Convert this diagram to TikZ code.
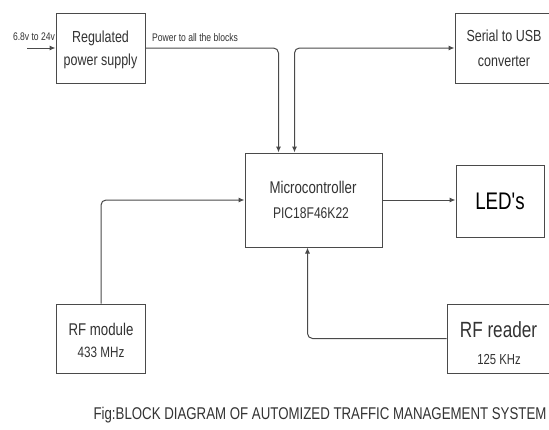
\documentclass[tikz,border=0pt]{standalone}
\usepackage{fontspec}
\setmainfont{Liberation Sans}
\usetikzlibrary{arrows.meta,calc}
\newcommand{\nar}[1]{\scalebox{0.78}[1]{#1}}
\definecolor{ln}{HTML}{4A4A4A}
\tikzset{
  blk/.style={draw=ln, line width=1pt, inner sep=0pt, align=center, fill=white},
  conn/.style={draw=ln, line width=1pt, rounded corners=5pt},
  tip/.style={-{Latex[length=6pt,width=5pt]}},
  lbl/.style={inner sep=0pt, text=black!80},
}
\begin{document}
\begin{tikzpicture}[x=1pt,y=-1pt]
\clip (0,0) rectangle (549,429);
\fill[white] (0,0) rectangle (549,429);
% blocks
\node[blk, minimum width=89pt, minimum height=70pt] (rps) at (100.5,48) {};
\node[lbl, font=\fontsize{16}{16}\selectfont] (rpst1) at (100.5,38) {\nar{Regulated}};
\node[lbl, font=\fontsize{16}{16}\selectfont] (rpst2) at (100.5,61) {\nar{power supply}};
\node[blk, minimum width=94pt, minimum height=70pt] (usb) at (502,48) {};
\node[lbl, font=\fontsize{16}{16}\selectfont] (usbt1) at (504,36) {\nar{Serial to USB}};
\node[lbl, font=\fontsize{16}{16}\selectfont] (usbt2) at (504,61) {\nar{converter}};
\node[blk, minimum width=137pt, minimum height=94pt] (micro) at (313.5,200) {};
\node[lbl, font=\fontsize{17}{17}\selectfont] (mt1) at (313,187) {\nar{Microcontroller}};
\node[lbl, font=\fontsize{15.5}{15.5}\selectfont] (mt2) at (311,213) {\nar{PIC18F46K22}};
\node[blk, minimum width=88pt, minimum height=72pt, font=\fontsize{24}{24}\selectfont] (led) at (500,201) {\nar{LED\textquotesingle s}};
\node[blk, minimum width=89pt, minimum height=69pt] (rfm) at (101,338.5) {};
\node[lbl, font=\fontsize{17}{17}\selectfont] (rfmt1) at (101,329) {\nar{RF module}};
\node[lbl, font=\fontsize{15}{15}\selectfont] (rfmt2) at (101,352) {\nar{433 MHz}};
\node[blk, minimum width=104pt, minimum height=69pt] (rfr) at (499,338.5) {};
\node[lbl, font=\fontsize{22}{22}\selectfont] (rfrt1) at (498.5,330) {\nar{RF reader}};
\node[lbl, font=\fontsize{14.5}{14.5}\selectfont] (rfrt2) at (499,360) {\nar{125 KHz}};
% labels
\node[lbl, font=\fontsize{11}{11}\selectfont] (inl) at (34,37) {\nar{6.8v to 24v}};
\node[lbl, font=\fontsize{11}{11}\selectfont] (pwl) at (195,38) {\nar{Power to all the blocks}};
\node[lbl, font=\fontsize{17}{17}\selectfont] (cap) at (320,415) {\nar{Fig:BLOCK DIAGRAM OF AUTOMIZED TRAFFIC MANAGEMENT SYSTEM}};
% connectors
\coordinate (in) at (27,48);
\draw[conn, tip] (in) -- (rps.west);
\draw[conn, tip] (rps.east) -| ([xshift=34pt]micro.north west);
\draw[conn, {Latex[length=6pt,width=5pt]}-{Latex[length=6pt,width=5pt]}] ([xshift=50pt]micro.north west) |- (usb.west);
\draw[conn, tip] (rfm.north) |- (micro.west);
\draw[conn, tip] (micro.east) -- (micro.east -| led.west);
\draw[conn, tip] (rfr.west) -| ([xshift=63pt]micro.south west);
\end{tikzpicture}
\end{document}
